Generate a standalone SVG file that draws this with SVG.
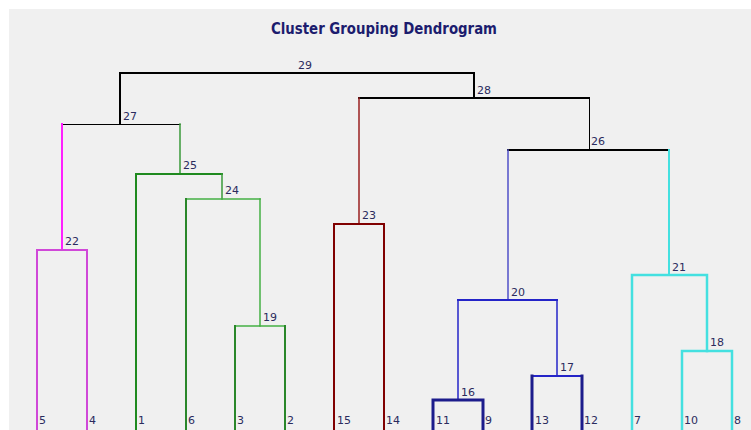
<svg xmlns="http://www.w3.org/2000/svg" width="751" height="430" viewBox="0 0 751 430">
<style>
.lbl{font-family:"DejaVu Sans","Liberation Sans",sans-serif;font-size:11px;fill:#2b2b5e}
.title{font-family:"DejaVu Sans","Liberation Sans",sans-serif;font-size:15px;font-weight:bold;fill:#1c1c6e}
path{fill:none;stroke-linecap:square}
.k{stroke:#000}
.m1{stroke:#ff20ff}.m2{stroke:#d048d8}
.g1{stroke:#1f8a1f}.g2{stroke:#3a9a3a}.g3{stroke:#44b044}.g4{stroke:#2a872a}
.r{stroke:#800000}.r2{stroke:#9a2020}
.b1{stroke:#5050c8}.b2{stroke:#2424c8}.b3{stroke:#1c1c8c}
.c{stroke:#44e0e0}
</style>
<rect x="0" y="0" width="751" height="430" fill="#ffffff"/>
<rect x="9" y="9" width="742" height="421" fill="#f0f0f0"/>
<text class="title" x="384" y="34" text-anchor="middle" textLength="226" lengthAdjust="spacingAndGlyphs">Cluster Grouping Dendrogram</text>
<g id="connectors">
<path class="k" d="M120 124V73H474V98" stroke-width="2"/>
<path class="k" d="M62 124.5H180" stroke-width="1"/>
<path class="k" d="M359 98H589" stroke-width="2"/>
<path class="k" d="M589.5 98V150" stroke-width="1"/>
<path class="k" d="M508 150H669" stroke-width="2"/>
<path class="m1" d="M62 124V250" stroke-width="2"/>
<path class="m2" d="M37 430V250H87V430" stroke-width="2"/>
<path class="g2" d="M180 124V174" stroke-width="1.5"/>
<path class="g1" d="M136 430V174H222" stroke-width="2"/>
<path class="g2" d="M222 174V199" stroke-width="1.5"/>
<path class="g3" d="M186 199H260" stroke-width="1.5"/>
<path class="g4" d="M186 199V430" stroke-width="2"/>
<path class="g3" d="M260 199V326H235" stroke-width="1.5"/>
<path class="g3" d="M260 326H285" stroke-width="1.5"/>
<path class="g4" d="M235 326V430M285 326V430" stroke-width="2"/>
<path class="r2" d="M359 98V224" stroke-width="1.5"/>
<path class="r" d="M334 430V224H384V430" stroke-width="2"/>
<path class="b1" d="M508 150V300" stroke-width="1.5"/>
<path class="b2" d="M458 300H557" stroke-width="2"/>
<path class="b2" d="M458 300V400" stroke-width="1.5"/>
<path class="b3" d="M433 430V400H483V430" stroke-width="3"/>
<path class="b2" d="M557 300V376" stroke-width="1.5"/>
<path class="b2" d="M532 376H582" stroke-width="2"/>
<path class="b3" d="M532 376V430M582 376V430" stroke-width="3"/>
<path class="c" d="M669 150V275" stroke-width="2"/>
<path class="c" d="M632 430V275H707V351" stroke-width="2.5"/>
<path class="c" d="M682 430V351H732V430" stroke-width="2.5"/>
</g>
<g id="node-labels">
<text class="lbl" x="298" y="69">29</text>
<text class="lbl" x="477" y="94">28</text>
<text class="lbl" x="123" y="120">27</text>
<text class="lbl" x="591" y="145">26</text>
<text class="lbl" x="183" y="169">25</text>
<text class="lbl" x="225" y="194">24</text>
<text class="lbl" x="362" y="219">23</text>
<text class="lbl" x="65" y="245">22</text>
<text class="lbl" x="672" y="271">21</text>
<text class="lbl" x="511" y="296">20</text>
<text class="lbl" x="263" y="321">19</text>
<text class="lbl" x="710" y="346">18</text>
<text class="lbl" x="560" y="371">17</text>
<text class="lbl" x="461" y="396">16</text>
</g>
<g id="leaves">
<text class="lbl" x="39" y="424">5</text>
<text class="lbl" x="89" y="424">4</text>
<text class="lbl" x="138" y="424">1</text>
<text class="lbl" x="188" y="424">6</text>
<text class="lbl" x="237" y="424">3</text>
<text class="lbl" x="287" y="424">2</text>
<text class="lbl" x="337" y="424">15</text>
<text class="lbl" x="386" y="424">14</text>
<text class="lbl" x="436" y="424">11</text>
<text class="lbl" x="485" y="424">9</text>
<text class="lbl" x="535" y="424">13</text>
<text class="lbl" x="584" y="424">12</text>
<text class="lbl" x="634" y="424">7</text>
<text class="lbl" x="684" y="424">10</text>
<text class="lbl" x="734" y="424">8</text>
</g>
</svg>
